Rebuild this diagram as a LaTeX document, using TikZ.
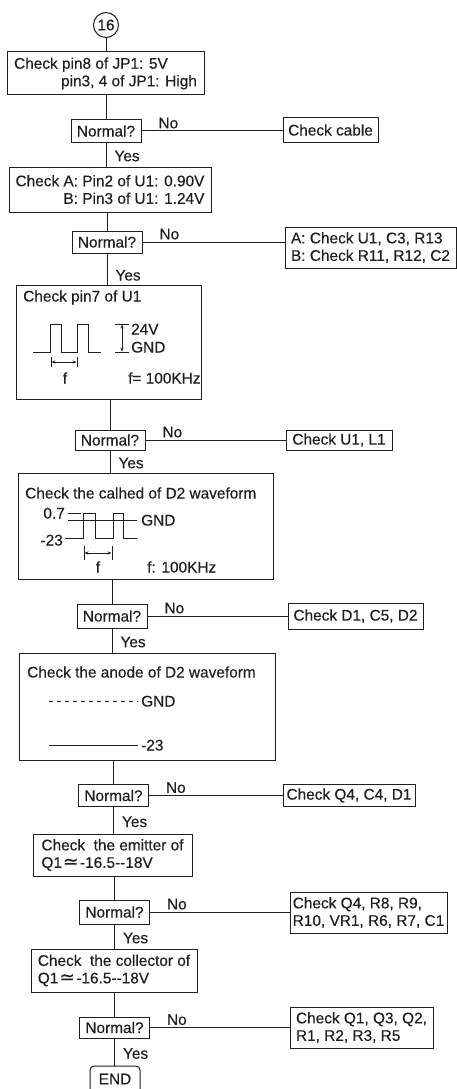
\documentclass[tikz,border=0pt]{standalone}
\usepackage{fontspec}
\setmainfont{Liberation Sans}[FakeBold=0.35]
\newfontfamily\symfont{DejaVu Sans}[FakeBold=0.35]
\newcommand{\approxeqsym}{\hspace{1pt}{\symfont\fontsize{18.5}{18.5}\selectfont ≃}\hspace{1.5pt}}
\usetikzlibrary{arrows.meta}
\definecolor{ink}{gray}{0.12}
\begin{document}
\begin{tikzpicture}[x=1pt,y=-1pt,font=\fontsize{15.4}{17.5}\selectfont,
  box/.style={draw=ink,line width=1pt,text=ink,inner sep=0pt,outer sep=0pt},
  normalbox/.style={box,minimum width=70pt,anchor=center},
  rbox/.style={box,anchor=west,align=left},
  bigbox/.style={box,anchor=north west},
  lbl/.style={text=ink,inner sep=0pt},
  conn/.style={draw=ink,line width=1pt},
  wave/.style={draw=ink,line width=0.9pt},
  nolbl/.style={lbl,anchor=south west,inner sep=2pt,xshift=15pt},
  yeslbl/.style={lbl,anchor=west,xshift=8pt,yshift=-1.5pt},
  dblarrow/.style={{Stealth[length=4pt,width=3.2pt]}-{Stealth[length=4pt,width=3.2pt]}}]
\useasboundingbox (0,0) rectangle (457,1089);

% start marker
\node[box,circle,minimum size=25pt] (c16) at (106,25) {16};

% step 1
\node[bigbox,minimum width=197pt,minimum height=43pt,align=left] (b1) at (7,52)
  {Check pin8 of JP1: 5V\\\hspace*{47pt}pin3, 4 of JP1: High};
\node[normalbox,minimum height=22pt] (n1) at (106,131) {Normal?};
\node[rbox,minimum width=95pt,minimum height=24pt] (r1) at (283,130) {Check cable};

% step 2
\node[bigbox,minimum width=202pt,minimum height=45pt,align=right] (b2) at (9,167)
  {Check A: Pin2 of U1: 0.90V\\B: Pin3 of U1: 1.24V};
\node[normalbox,minimum height=22pt] (n2) at (107,242) {Normal?};
\node[rbox,minimum width=171pt,minimum height=41pt] (r2) at (285,247.5)
  {A: Check U1, C3, R13\\B: Check R11, R12, C2};

% step 3
\node[bigbox,minimum width=185pt,minimum height=114pt] (b3) at (16,285) {};
\node[lbl,anchor=base west] (t3) at (23,301.5) {Check pin7 of U1};
\draw[wave] (33,352) -- (50,352) -- (50,324) -- (61,324) -- (61,352) -- (77,352)
  -- (77,324) -- (88,324) -- (88,352) -- (101,352);
\draw[wave] (51,357) -- (51,367) (77,357) -- (77,367);
\draw[wave,dblarrow] (51.5,362) -- (76.5,362);
\node[lbl,anchor=base] (f3) at (65,383.5) {f};
\draw[wave] (115,324) -- (129,324) (115,352) -- (129,352);
\draw[wave,dblarrow] (122,324.5) -- (122,351.5);
\node[lbl,anchor=base west] (v24) at (131,334.5) {24V};
\node[lbl,anchor=base west] (g3) at (131,352.5) {GND};
\node[lbl,anchor=base west] (fq3) at (128,383.5) {f= 100KHz};
\node[normalbox,minimum height=20pt] (n3) at (110,440) {Normal?};
\node[rbox,minimum width=106pt,minimum height=20pt] (r3) at (286,440) {Check U1, L1};

% step 4
\node[bigbox,minimum width=255pt,minimum height=106pt] (b4) at (18,473) {};
\node[lbl,anchor=base west] (t4) at (25,498.5) {Check the calhed of D2 waveform};
\node[lbl,anchor=base east] (v07) at (65,518.5) {0.7};
\node[lbl,anchor=base east] (v23) at (63,545.5) {-23};
\draw[wave] (68,513) -- (81,513);
\draw[wave] (68,520) -- (137,520);
\draw[wave] (65,538) -- (83,538) -- (83,513) -- (95,513) -- (95,538) -- (113,538)
  -- (113,513) -- (123,513) -- (123,538) -- (137,538);
\node[lbl,anchor=base west] (g4) at (141,525.5) {GND};
\draw[wave] (84,546) -- (84,560) (112,546) -- (112,560);
\draw[wave,dblarrow] (84.5,553) -- (111.5,553);
\node[lbl,anchor=base] (f4) at (98,572.5) {f};
\node[lbl,anchor=base west] (fq4) at (147,572.5) {f: 100KHz};
\node[normalbox,minimum height=24pt] (n4) at (112,616) {Normal?};
\node[rbox,minimum width=135pt,minimum height=26pt] (r4) at (288,616) {Check D1, C5, D2};

% step 5
\node[bigbox,minimum width=256pt,minimum height=107pt] (b5) at (19,653) {};
\node[lbl,anchor=base west] (t5) at (27,677.5) {Check the anode of D2 waveform};
\draw[wave,dash pattern=on 3.5pt off 4.5pt] (49,701) -- (138,701);
\node[lbl,anchor=base west] (g5) at (141,706.5) {GND};
\draw[wave] (49,745) -- (138,745);
\node[lbl,anchor=base west] (m5) at (141,750.5) {-23};
\node[normalbox,minimum height=22pt] (n5) at (113.5,795.5) {Normal?};
\node[rbox,minimum width=132pt,minimum height=22pt] (r5) at (283,795.5) {Check Q4, C4, D1};

% step 6
\node[bigbox,minimum width=159pt,minimum height=42pt,align=left] (b6) at (33,834)
  {Check\ \ the emitter of\\Q1\approxeqsym-16.5-{}-18V};
\node[normalbox,minimum height=24pt] (n6) at (114.5,912) {Normal?};
\node[rbox,minimum width=157pt,minimum height=41pt] (r6) at (290,912.5)
  {Check Q4, R8, R9,\\R10, VR1, R6, R7, C1};

% step 7
\node[bigbox,minimum width=166pt,minimum height=43pt,align=left] (b7) at (31,949)
  {Check\ \ the collector of\\Q1\approxeqsym-16.5-{}-18V};
\node[normalbox,minimum height=21pt] (n7) at (114.5,1027.5) {Normal?};
\node[rbox,minimum width=143pt,minimum height=41pt] (r7) at (290,1027.5)
  {Check Q1, Q3, Q2,\\R1, R2, R3, R5};

% end (its lower edge lies below the page, as in the reference)
\node[bigbox,rounded corners=4pt,minimum width=50pt,minimum height=34pt,
  text depth=8pt] (e) at (90,1066) {END};

% vertical connectors
\draw[conn] (c16.south) -- (c16.south |- b1.north);
\draw[conn] (n1.north) -- (n1.north |- b1.south);
\draw[conn] (n1.south) -- node[yeslbl]{Yes} (n1.south |- b2.north);
\draw[conn] (n2.north) -- (n2.north |- b2.south);
\draw[conn] (n2.south) -- node[yeslbl,pos=0.65]{Yes} (n2.south |- b3.north);
\draw[conn] (n3.north) -- (n3.north |- b3.south);
\draw[conn] (n3.south) -- node[yeslbl]{Yes} (n3.south |- b4.north);
\draw[conn] (n4.north) -- (n4.north |- b4.south);
\draw[conn] (n4.south) -- node[yeslbl]{Yes} (n4.south |- b5.north);
\draw[conn] (n5.north) -- (n5.north |- b5.south);
\draw[conn] (n5.south) -- node[yeslbl]{Yes} (n5.south |- b6.north);
\draw[conn] (n6.north) -- (n6.north |- b6.south);
\draw[conn] (n6.south) -- node[yeslbl]{Yes} (n6.south |- b7.north);
\draw[conn] (n7.north) -- (n7.north |- b7.south);
\draw[conn] (n7.south) -- node[yeslbl]{Yes} (n7.south |- e.north);

% No branches
\draw[conn] (n1.east) -- node[nolbl,pos=0]{No} (n1.east -| r1.west);
\draw[conn] (n2.east) -- node[nolbl,pos=0]{No} (n2.east -| r2.west);
\draw[conn] (n3.east) -- node[nolbl,pos=0]{No} (n3.east -| r3.west);
\draw[conn] (n4.east) -- node[nolbl,pos=0]{No} (n4.east -| r4.west);
\draw[conn] (n5.east) -- node[nolbl,pos=0]{No} (n5.east -| r5.west);
\draw[conn] (n6.east) -- node[nolbl,pos=0]{No} (n6.east -| r6.west);
\draw[conn] (n7.east) -- node[nolbl,pos=0]{No} (n7.east -| r7.west);
\end{tikzpicture}
\end{document}
